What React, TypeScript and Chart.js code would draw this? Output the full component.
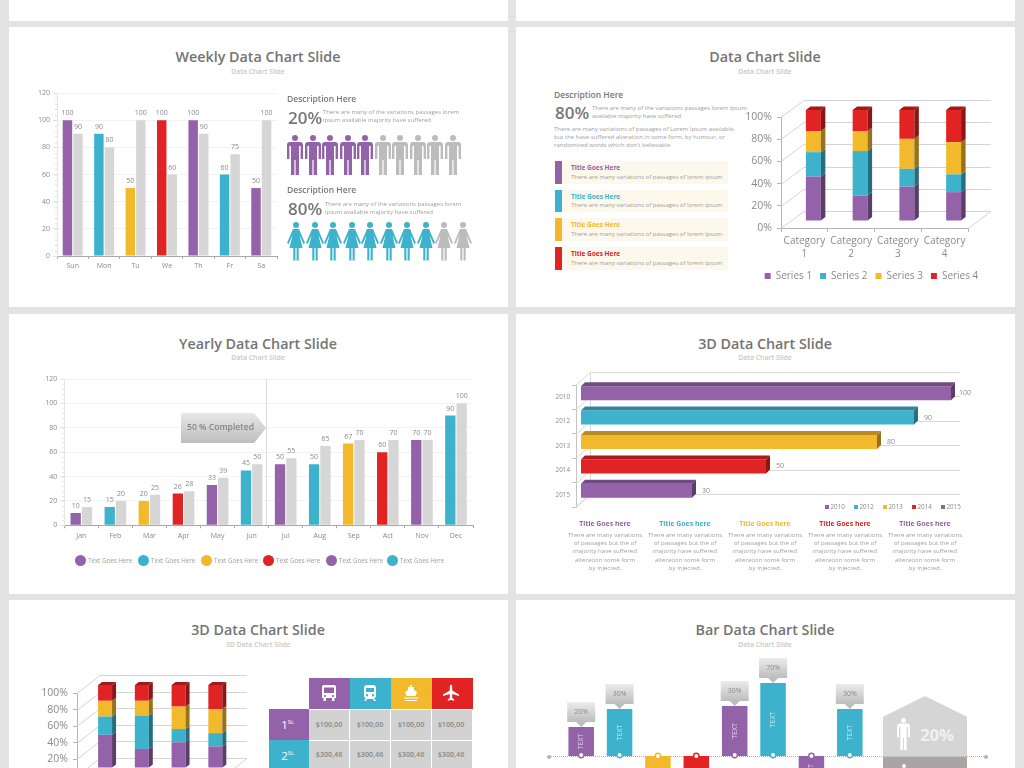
import React, { useEffect, useRef } from "react";
import { Chart, registerables } from "chart.js";

Chart.register(...registerables);
Chart.defaults.font.family = "'Open Sans', sans-serif";

const PURPLE = "#9462a8";
const BLUE = "#3cb2cd";
const YELLOW = "#f2b92c";
const RED = "#e12323";
const GREY = "#d6d6d6";
const TXT = "#8a8a8a";
const BODY = "#a0a0a0";

const weekDays = ["Sun", "Mon", "Tu", "We", "Th", "Fr", "Sa"];
const weekColored = [100, 90, 50, 100, 100, 60, 50];
const weekGrey = [90, 80, 100, 60, 90, 75, 100];
const weekColors = [PURPLE, BLUE, YELLOW, RED, PURPLE, BLUE, PURPLE];

const months = ["Jan", "Feb", "Mar", "Apr", "May", "Jun", "Jul", "Aug", "Sep", "Act", "Nov", "Dec"];
const yearColored = [10, 15, 20, 26, 33, 45, 50, 50, 67, 60, 70, 90];
const yearGrey = [15, 20, 25, 28, 39, 50, 55, 65, 70, 70, 70, 100];
const yearColors = [PURPLE, BLUE, YELLOW, RED, PURPLE, BLUE, PURPLE, BLUE, YELLOW, RED, PURPLE, BLUE];

const stackCats = [["Category", "1"], ["Category", "2"], ["Category", "3"], ["Category", "4"]];
const series1 = [40, 23, 31, 26];
const series2 = [22, 40, 16, 16];
const series3 = [19, 18, 27, 29];
const series4 = [19, 19, 26, 29];
const seriesNames = ["Series 1", "Series 2", "Series 3", "Series 4"];
const seriesColors = [PURPLE, BLUE, YELLOW, RED];

const hYears = ["2010", "2012", "2013", "2014", "2015"];
const hValues = [100, 90, 80, 50, 30];
const hColors = [PURPLE, BLUE, YELLOW, RED, PURPLE];

const tagBars = [29, 47, -45, -45, 50, 73, -32, 47];
const tagLabels = ["20%", "30%", "", "", "30%", "70%", "", "30%"];
const tagColors = [PURPLE, BLUE, YELLOW, RED, PURPLE, BLUE, PURPLE, BLUE];
const tagCats = ["A", "B", "C", "D", "E", "F", "G", "H"];

const fullTitles = [
  ["Title Goes Here", PURPLE],
  ["Title Goes Here", BLUE],
  ["Title Goes Here", YELLOW],
  ["Title Goes Here", RED],
] as const;
const colTitles = [
  ["Title Goes here", PURPLE],
  ["Title Goes here", BLUE],
  ["Title Goes here", YELLOW],
  ["Title Goes here", RED],
  ["Title Goes here", PURPLE],
] as const;
const colLines = [
  "There are many variations",
  "of passages but the of",
  "majority have suffered",
  "alteration some form",
  "by injected.",
];
const yearLegend = [PURPLE, BLUE, YELLOW, RED, PURPLE, BLUE];

function shade(hex: string, k: number) {
  const n = parseInt(hex.slice(1), 16);
  const f = (v: number) => Math.round(v * k);
  return `rgb(${f((n >> 16) & 255)},${f((n >> 8) & 255)},${f(n & 255)})`;
}

function poly(ctx: any, pts: number[][], fill: string) {
  ctx.beginPath();
  pts.forEach((p, i) => (i ? ctx.lineTo(p[0], p[1]) : ctx.moveTo(p[0], p[1])));
  ctx.closePath();
  ctx.fillStyle = fill;
  ctx.fill();
}

const valueLabels = {
  id: "valueLabels",
  afterDatasetsDraw(chart: any) {
    const { ctx } = chart;
    ctx.save();
    ctx.font = "7px 'Open Sans'";
    ctx.fillStyle = TXT;
    ctx.textAlign = "center";
    ctx.textBaseline = "middle";
    chart.data.datasets.forEach((ds: any, i: number) => {
      chart.getDatasetMeta(i).data.forEach((el: any, j: number) => {
        ctx.fillText(String(ds.data[j]), el.x, el.y - 7);
      });
    });
    ctx.restore();
  },
};

const minorTicks = {
  id: "minorTicks",
  afterDraw(chart: any) {
    const { ctx, scales } = chart;
    const y = scales.y;
    ctx.save();
    ctx.strokeStyle = "#e2e2e2";
    ctx.lineWidth = 1;
    for (let v = 0; v <= 120; v += 4) {
      const p = Math.round(y.getPixelForValue(v)) + 0.5;
      ctx.beginPath();
      ctx.moveTo(y.right - 2, p);
      ctx.lineTo(y.right, p);
      ctx.stroke();
    }
    ctx.restore();
  },
};

function stack3d(dx: number, dy: number, dep: number[], wall: number[], legendShift = 0, legendTop = 0) {
  return {
    id: "stack3d",
    afterLayout(chart: any) {
      if (chart.legend && legendShift) {
        chart.legend.left += legendShift;
        chart.legend.right += legendShift;
        chart.legend.top = legendTop;
      }
    },
    beforeDatasetsDraw(chart: any) {
      const { ctx, chartArea: a, scales } = chart;
      ctx.save();
      ctx.strokeStyle = "#d4d4d4";
      ctx.lineWidth = 1;
      scales.y.ticks.forEach((t: any) => {
        const p = Math.round(scales.y.getPixelForValue(t.value)) + 0.5;
        ctx.beginPath();
        ctx.moveTo(a.left, p);
        ctx.lineTo(a.left + wall[0], p - wall[1]);
        ctx.lineTo(a.right + wall[0], p - wall[1]);
        if (t.value === 0) {
          ctx.lineTo(a.right, p);
        }
        ctx.stroke();
      });
      ctx.restore();
      ctx.save();
      ctx.translate(dx, dy);
    },
    afterDatasetsDraw(chart: any) {
      const { ctx } = chart;
      const n = chart.data.datasets.length;
      chart.data.datasets.forEach((ds: any, i: number) => {
        chart.getDatasetMeta(i).data.forEach((el: any) => {
          const r = el.x + el.width / 2;
          const l = el.x - el.width / 2;
          poly(ctx, [[r, el.y], [r + dep[0], el.y - dep[1]], [r + dep[0], el.base - dep[1]], [r, el.base]], shade(ds.backgroundColor, 0.62));
          if (i === n - 1) {
            poly(ctx, [[l, el.y], [l + dep[0], el.y - dep[1]], [r + dep[0], el.y - dep[1]], [r, el.y]], shade(ds.backgroundColor, 0.72));
          }
        });
      });
      ctx.restore();
    },
  };
}

const hBar3d = {
  id: "hBar3d",
  beforeDatasetsDraw(chart: any) {
    const { ctx, chartArea: a, scales } = chart;
    ctx.save();
    ctx.strokeStyle = "#d8d8d8";
    ctx.lineWidth = 1;
    const wx = 14;
    const wy = 13;
    const backL = a.left + wx + 0.5;
    const backR = a.right + 14;
    ctx.beginPath();
    ctx.moveTo(a.left, a.top);
    ctx.lineTo(backL, a.top - wy + 0.5);
    ctx.lineTo(backR, a.top - wy + 0.5);
    ctx.moveTo(backL, a.top - wy);
    ctx.lineTo(backL, a.bottom - wy);
    ctx.lineTo(a.left, a.bottom);
    ctx.stroke();
    for (let i = 0; i < hYears.length; i++) {
      const b = Math.round(scales.y.getPixelForValue(i) + 12.2 - wy) + 0.5;
      ctx.beginPath();
      ctx.moveTo(backL, b);
      ctx.lineTo(backR, b);
      ctx.stroke();
      ctx.beginPath();
      ctx.moveTo(a.left, b + wy);
      ctx.lineTo(backL, b);
      ctx.stroke();
    }
    ctx.restore();
    ctx.save();
    ctx.translate(5, -4);
  },
  afterDatasetsDraw(chart: any) {
    const { ctx } = chart;
    const ds = chart.data.datasets[0];
    const d = 4;
    chart.getDatasetMeta(0).data.forEach((el: any, i: number) => {
      const t = el.y - el.height / 2;
      const b = el.y + el.height / 2;
      const c = ds.backgroundColor[i];
      poly(ctx, [[el.base, t], [el.base + d, t - d], [el.x + d, t - d], [el.x, t]], shade(c, 0.76));
      poly(ctx, [[el.x, t], [el.x + d, t - d], [el.x + d, b - d], [el.x, b]], shade(c, 0.62));
      ctx.font = "7px 'Open Sans'";
      ctx.fillStyle = TXT;
      ctx.textAlign = "center";
      ctx.textBaseline = "middle";
      ctx.fillText(String(ds.data[i]), el.x + 14, el.y);
    });
    ctx.restore();
  },
};

const tagBarsPlugin = {
  id: "tagBars",
  afterDatasetsDraw(chart: any) {
    const { ctx } = chart;
    chart.getDatasetMeta(0).data.forEach((el: any, i: number) => {
      const up = tagBars[i] > 0;
      ctx.save();
      ctx.translate(el.x, (el.y + el.base) / 2);
      ctx.rotate(-Math.PI / 2);
      ctx.font = "7px 'Open Sans'";
      ctx.fillStyle = "rgba(255,255,255,0.72)";
      ctx.textAlign = "center";
      ctx.textBaseline = "middle";
      ctx.fillText("TEXT", 0, 0);
      ctx.restore();

      ctx.beginPath();
      ctx.arc(el.x, el.base - (up ? 1 : 0), 2.7, 0, Math.PI * 2);
      ctx.fillStyle = "#fff";
      ctx.fill();
      ctx.lineWidth = 1.4;
      ctx.strokeStyle = tagColors[i];
      ctx.stroke();

      if (up) {
        const tip = el.y;
        const bot = tip - 5;
        const top = bot - 20;
        const w = 14;
        const g = ctx.createLinearGradient(0, top, 0, bot);
        g.addColorStop(0, "#ececec");
        g.addColorStop(1, "#bdbdbd");
        ctx.beginPath();
        ctx.moveTo(el.x - w, top);
        ctx.lineTo(el.x + w, top);
        ctx.lineTo(el.x + w, bot);
        ctx.lineTo(el.x + 5, bot);
        ctx.lineTo(el.x, tip);
        ctx.lineTo(el.x - 5, bot);
        ctx.lineTo(el.x - w, bot);
        ctx.closePath();
        ctx.fillStyle = g;
        ctx.fill();
        ctx.font = "7px 'Open Sans'";
        ctx.fillStyle = TXT;
        ctx.textAlign = "center";
        ctx.textBaseline = "middle";
        ctx.fillText(tagLabels[i], el.x, top + 9.5);
      }
    });
  },
};

function fixedAxis(size: number, vertical: boolean) {
  return (s: any) => {
    if (vertical) s.width = size;
    else s.height = size;
  };
}

function pairBars(labels: string[], colored: number[], grey: number[], colors: string[], yW: number, xH: number, padding: any, catPct: number, barPct: number) {
  return {
    type: "bar",
    data: {
      labels,
      datasets: [
        { data: colored, backgroundColor: colors, categoryPercentage: catPct, barPercentage: barPct },
        { data: grey, backgroundColor: GREY, categoryPercentage: catPct, barPercentage: barPct },
      ],
    },
    options: {
      animation: false,
      responsive: false,
      layout: { padding },
      plugins: { legend: { display: false }, tooltip: { enabled: false } },
      scales: {
        x: {
          afterFit: fixedAxis(xH, false),
          grid: { drawOnChartArea: false, color: "#a8a8a8", tickLength: 3 },
          border: { color: "#a8a8a8" },
          ticks: { color: TXT, font: { size: 7 }, padding: 3, maxRotation: 0, autoSkip: false },
        },
        y: {
          min: 0,
          max: 120,
          afterFit: fixedAxis(yW, true),
          grid: { color: "#f3f3f3", tickColor: "#e2e2e2", tickLength: 4 },
          border: { color: "#e4e4e4" },
          ticks: { color: TXT, font: { size: 7 }, stepSize: 20, padding: 3 },
        },
      },
    },
    plugins: [valueLabels, minorTicks],
  };
}

function stackChart(opts: { legend: boolean; yW: number; xH: number; padding: any; plugin: any; barPct: number; showX: boolean }) {
  const dataRows = [series1, series2, series3, series4];
  return {
    type: "bar",
    data: {
      labels: stackCats,
      datasets: dataRows.map((d, i) => ({
        label: seriesNames[i],
        data: d,
        backgroundColor: seriesColors[i],
        clip: false,
        categoryPercentage: 1,
        barPercentage: opts.barPct,
      })),
    },
    options: {
      animation: false,
      responsive: false,
      layout: { padding: opts.padding },
      plugins: {
        tooltip: { enabled: false },
        legend: {
          display: opts.legend,
          position: "bottom",
          labels: { boxWidth: 6, boxHeight: 6, color: TXT, font: { size: 10 }, padding: 8 },
        },
      },
      scales: {
        x: {
          stacked: true,
          display: opts.showX,
          afterFit: fixedAxis(opts.xH, false),
          grid: { drawOnChartArea: false, color: "#b4b4b4", tickLength: 4 },
          border: { color: "#b4b4b4" },
          ticks: { color: TXT, font: { size: 10, lineHeight: 1.3 }, padding: 3, maxRotation: 0, autoSkip: false },
        },
        y: {
          stacked: true,
          min: 0,
          max: 100,
          afterFit: fixedAxis(opts.yW, true),
          grid: { drawOnChartArea: false, color: "#b4b4b4", tickLength: 4 },
          border: { color: "#b4b4b4" },
          ticks: { color: TXT, font: { size: 10.5 }, stepSize: 20, padding: 5, callback: (v: any) => `${v}%` },
        },
      },
    },
    plugins: [opts.plugin],
  };
}

const hBarConfig = () => ({
  type: "bar",
  data: {
    labels: hYears,
    datasets: [{ data: hValues, backgroundColor: hColors, clip: false, categoryPercentage: 1, barPercentage: 0.575 }],
  },
  options: {
    indexAxis: "y",
    animation: false,
    responsive: false,
    layout: { padding: { top: 25, bottom: 8, right: 44 } },
    plugins: { legend: { display: false }, tooltip: { enabled: false } },
    scales: {
      x: { display: false, min: 0, max: 100 },
      y: {
        afterFit: fixedAxis(36, true),
        grid: { drawOnChartArea: false, color: "#c4c4c4", tickLength: 4 },
        border: { color: "#c4c4c4" },
        ticks: { color: TXT, font: { size: 6.3 }, padding: 2 },
      },
    },
  },
  plugins: [hBar3d],
});

const tagConfig = () => ({
  type: "bar",
  data: {
    labels: tagCats,
    datasets: [{ data: tagBars, backgroundColor: tagColors, categoryPercentage: 1, barPercentage: 0.665 }],
  },
  options: {
    animation: false,
    responsive: false,
    plugins: { legend: { display: false }, tooltip: { enabled: false } },
    scales: {
      x: { display: false },
      y: { display: false, min: -50, max: 111 },
    },
  },
  plugins: [tagBarsPlugin],
});

function ChartBox({ x, y, w, h, make }: { x: number; y: number; w: number; h: number; make: () => any }) {
  const ref = useRef<HTMLCanvasElement>(null);
  useEffect(() => {
    const c = new Chart(ref.current as any, make());
    return () => c.destroy();
  }, []);
  return <canvas ref={ref} width={w} height={h} style={{ position: "absolute", left: x, top: y, width: w, height: h, display: "block" }} />;
}

function T({ x, y, size, color = BODY, weight = 400, center = false, spacing, children }: any) {
  return (
    <div
      style={{
        position: "absolute",
        left: x,
        top: y,
        fontSize: size,
        color,
        fontWeight: weight,
        whiteSpace: "nowrap",
        letterSpacing: spacing,
        lineHeight: 1,
        transform: center ? "translate(-50%,-50%)" : "translateY(-50%)",
      }}
    >
      {children}
    </div>
  );
}

function Box({ x, y, w, h, bg, style }: any) {
  return <div style={{ position: "absolute", left: x, top: y, width: w, height: h, background: bg, ...style }} />;
}

function Heading({ cx, y, title, sub }: any) {
  return (
    <>
      <T x={cx} y={y} size={14.3} color="#747474" weight={600} center>{title}</T>
      <T x={cx} y={y + 14.7} size={6.9} color="#c8c8c8" weight={600} center>{sub}</T>
    </>
  );
}

function Man({ x, y, color }: any) {
  return (
    <svg style={{ position: "absolute", left: x, top: y }} width={16} height={40} viewBox="0 0 16 40">
      <circle cx={8} cy={3} r={3} fill={color} />
      <path fill={color} d="M3 7 H13 Q16 7 16 10 V24 H13.6 V11 H12 V40 H8.6 V25 H7.4 V40 H4 V11 H2.4 V24 H0 V10 Q0 7 3 7Z" />
    </svg>
  );
}

function Woman({ x, y, color }: any) {
  return (
    <svg style={{ position: "absolute", left: x, top: y }} width={18} height={38.5} viewBox="0 0 18 38.5">
      <circle cx={9} cy={3} r={3} fill={color} />
      <path fill={color} d="M6 7 H12 L18 21 L16.4 22 L12.5 13 L15.5 26 H11.7 V38.5 H9.6 V26 H8.4 V38.5 H6.3 V26 H2.5 L5.5 13 L1.6 22 L0 21 Z" />
    </svg>
  );
}

function Icon({ cx, kind }: any) {
  const common = { position: "absolute", left: cx - 9, top: 684 } as any;
  return (
    <svg style={common} width={18} height={18} viewBox="0 0 18 18" fill="#fff">
      {kind === "bus" && <path fillRule="evenodd" d="M4 1 H14 Q16 1 16 3 V14 H14.5 V17 H12 V14 H6 V17 H3.5 V14 H2 V3 Q2 1 4 1Z M4 3.5 V9 H14 V3.5Z M5 11 a1 1 0 1 0 .01 0Z M13 11 a1 1 0 1 0 .01 0Z" />}
      {kind === "train" && <path fillRule="evenodd" d="M6 1 H12 Q15 1 15 4 V12 Q15 14 13 14 L15 17 H13 L12 15 H6 L5 17 H3 L5 14 Q3 14 3 12 V4 Q3 1 6 1Z M5 4 V8 H13 V4Z M6 10 a1.2 1.2 0 1 0 .01 0Z M12 10 a1.2 1.2 0 1 0 .01 0Z" />}
      {kind === "ship" && <path d="M8 1 H10 V3 H12 V6 L15 8 L13.5 12 H4.5 L3 8 L6 6 V3 H8Z M2 13.5 H16 V14.5 H2Z M3 16 H15 V17 H3Z" />}
      {kind === "plane" && <path d="M9 0.5 Q10.2 0.5 10.2 3 V6.5 L17 10.5 V12 L10.2 10 V14 L12.2 15.5 V16.8 L9 16 L5.8 16.8 V15.5 L7.8 14 V10 L1 12 V10.5 L7.8 6.5 V3 Q7.8 0.5 9 0.5Z" />}
    </svg>
  );
}

const rowYs = [161, 189.6, 218, 247];
const colCenters = [605, 685, 765, 845, 925];
const tableHeadX = [310, 351, 392, 432.5];
const iconKinds = ["bus", "train", "ship", "plane"];

export default function App() {
  useEffect(() => {
    document.body.style.margin = "0";
  }, []);
  return (
    <div style={{ position: "fixed", left: 0, top: 0, width: 1024, height: 768, overflow: "hidden", background: "#e3e3e3", fontFamily: "'Open Sans', sans-serif", filter: "blur(0.35px)" }}>
      <Box x={9} y={0} w={499} h={21} bg="#fff" />
      <Box x={516} y={0} w={499} h={21} bg="#fff" />
      <Box x={9} y={27} w={499} h={280} bg="#fff" />
      <Box x={516} y={27} w={499} h={280} bg="#fff" />
      <Box x={9} y={314} w={499} h={280} bg="#fff" />
      <Box x={516} y={314} w={499} h={280} bg="#fff" />
      <Box x={9} y={600} w={499} h={168} bg="#fff" />
      <Box x={516} y={600} w={499} h={168} bg="#fff" />

      {/* Card 1 */}
      <Heading cx={258} y={57} title="Weekly Data Chart Slide" sub="Data Chart Slide" />
      <ChartBox x={20} y={85} w={270} h={190} make={() => pairBars(weekDays, weekColored, weekGrey, weekColors, 37, 19, { top: 8, right: 13 }, 0.67, 0.9)} />
      <T x={287} y={99} size={8.5} color="#777" weight={600}>Description Here</T>
      <T x={288} y={117} size={17} color="#777" weight={600}>20%</T>
      <T x={323} y={112} size={6}>There are many of the variations passages lorem</T>
      <T x={323} y={120} size={6}>ipsum available majority have suffered</T>
      {Array.from({ length: 10 }).map((_, i) => (
        <Man key={i} x={287 + i * 17.5} y={135} color={i < 5 ? PURPLE : "#bcbcbc"} />
      ))}
      <T x={287} y={190} size={8.5} color="#777" weight={600}>Description Here</T>
      <T x={288} y={208} size={17} color="#777" weight={600}>80%</T>
      <T x={325} y={204} size={6}>There are many of the variations passages lorem</T>
      <T x={325} y={212} size={6}>ipsum available majority have suffered</T>
      {Array.from({ length: 10 }).map((_, i) => (
        <Woman key={i} x={287 + i * 18.5} y={222} color={i < 8 ? BLUE : "#bcbcbc"} />
      ))}

      {/* Card 2 */}
      <Heading cx={765} y={57} title="Data Chart Slide" sub="Data Chart Slide" />
      <T x={554} y={95} size={8.5} color="#777" weight={600}>Description Here</T>
      <T x={555} y={112} size={17} color="#777" weight={600}>80%</T>
      <T x={592} y={108} size={6}>There are many of the variations passages lorem ipsum</T>
      <T x={592} y={116} size={6}>available majority have suffered</T>
      <T x={554} y={129} size={6}>There are many variations of passages of Lorem Ipsum available,</T>
      <T x={554} y={137} size={6}>but the have suffered alteration in some form, by humour, or</T>
      <T x={554} y={145} size={6}>randomized words which don't believable</T>
      {fullTitles.map(([t, c], i) => (
        <React.Fragment key={i}>
          <Box x={562} y={rowYs[i]} w={166} h={22.5} bg="#fdf8ec" />
          <Box x={554.7} y={rowYs[i]} w={7.3} h={22.5} bg={c} />
          <T x={571} y={rowYs[i] + 7.2} size={6.5} color={c} weight={700}>{t}</T>
          <T x={571} y={rowYs[i] + 15.7} size={6}>There are many variations of passages of lorem ipsum</T>
        </React.Fragment>
      ))}
      <ChartBox x={715} y={95} w={300} h={200} make={() => stackChart({ legend: true, yW: 66, xH: 39, padding: { top: 22, right: 47 }, plugin: stack3d(9, -7, [4.5, 3.5], [23, 17], 30, 168), barPct: 0.32, showX: true })} />

      {/* Card 3 */}
      <Heading cx={258} y={343.5} title="Yearly Data Chart Slide" sub="Data Chart Slide" />
      <ChartBox x={30} y={370} w={470} h={175} make={() => pairBars(months, yearColored, yearGrey, yearColors, 34.3, 19.7, { top: 9, right: 27 }, 0.665, 0.91)} />
      <Box x={266} y={379} w={1} h={146} bg="#dcdcdc" />
      <Box x={181} y={413} w={85} h={30} bg="linear-gradient(#e8e8e8,#bdbdbd)" style={{ clipPath: "polygon(0 0, 86% 0, 100% 50%, 86% 100%, 0 100%)" }} />
      <T x={187} y={427} size={8.6} color="#858585" weight={600}>50 % Completed</T>
      {yearLegend.map((c, i) => {
        const cx = [80, 143, 206, 268, 331, 392][i];
        return (
          <React.Fragment key={i}>
            <Box x={cx - 5.5} y={555.2} w={11} h={11} bg={c} style={{ borderRadius: "50%" }} />
            <T x={cx + 8} y={560.7} size={6.2}>Text Goes Here</T>
          </React.Fragment>
        );
      })}

      {/* Card 4 */}
      <Heading cx={765} y={343.5} title="3D Data Chart Slide" sub="Data Chart Slide" />
      <ChartBox x={540} y={360} w={450} h={155} make={hBarConfig} />
      {hYears.map((yr, i) => {
        const sx = [825, 854, 883, 912, 941][i];
        return (
          <React.Fragment key={yr}>
            <Box x={sx} y={505} w={4} h={4} bg={hColors[i]} />
            <T x={sx + 5.5} y={507.3} size={6.3} color={TXT}>{yr}</T>
          </React.Fragment>
        );
      })}
      {colTitles.map(([t, c], i) => (
        <React.Fragment key={i}>
          <T x={colCenters[i]} y={524} size={6.9} color={c} weight={700} center>{t}</T>
          {colLines.map((l, j) => (
            <T key={j} x={colCenters[i]} y={534.7 + j * 8.3} size={6.1} center>{l}</T>
          ))}
        </React.Fragment>
      ))}

      {/* Card 5 */}
      <Heading cx={258} y={630} title="3D Data Chart Slide" sub="3D Data Chart Slide" />
      <ChartBox x={40} y={671} w={220} h={130} make={() => stackChart({ legend: false, yW: 37, xH: 0, padding: { top: 22, right: 36, bottom: 25 }, plugin: stack3d(9.7, -8, [4, 3], [23, 18]), barPct: 0.38, showX: false })} />
      {tableHeadX.map((x, i) => (
        <React.Fragment key={i}>
          <Box x={x - 1} y={678} w={41} h={31} bg={seriesColors[i]} />
          <Icon cx={[329, 370, 411, 451][i]} kind={iconKinds[i]} />
          <Box x={x - 1} y={709.5} w={40.2} h={30} bg="#d2d2d2" />
          <T x={[329, 370, 411, 451][i]} y={724.5} size={7.2} color="#888" weight={600} center>$100,00</T>
          <Box x={x - 1} y={740.5} w={40.2} h={30} bg="#d2d2d2" />
          <T x={[329, 370, 411, 451][i]} y={755} size={7.2} color="#888" weight={600} center>$300,46</T>
        </React.Fragment>
      ))}
      <Box x={269} y={709} w={40} h={31} bg={PURPLE} />
      <T x={288} y={725} size={11.5} color="#fff" center>1<sup style={{ fontSize: 6 }}>St.</sup></T>
      <Box x={269} y={740} w={40} h={31} bg={BLUE} />
      <T x={288} y={756} size={11.5} color="#fff" center>2<sup style={{ fontSize: 6 }}>St.</sup></T>

      {/* Card 6 */}
      <Heading cx={765} y={630} title="Bar Data Chart Slide" sub="Data Chart Slide" />
      <Box x={883} y={696} w={84} h={61} bg="#d5d5d5" style={{ clipPath: "polygon(50% 0, 100% 34%, 100% 100%, 0 100%, 0 34%)" }} />
      <Box x={883} y={757} w={84} h={11} bg="#aaa4a4" />
      <Box x={901.5} y={764} w={4} h={4} bg="#fff" style={{ borderRadius: "50%" }} />
      <T x={937} y={735} size={16.5} color="#f0f0f0" weight={700} center>20%</T>
      <svg style={{ position: "absolute", left: 897, top: 717.5 }} width={13} height={32} viewBox="0 0 16 40">
        <circle cx={8} cy={3} r={3} fill="#fff" />
        <path fill="#fff" d="M3 7 H13 Q16 7 16 10 V24 H13.6 V11 H12 V40 H8.6 V25 H7.4 V40 H4 V11 H2.4 V24 H0 V10 Q0 7 3 7Z" />
      </svg>
      <Box x={549} y={756} w={437} h={0} style={{ borderTop: "1px dotted #b0b0b0" }} />
      <Box x={547} y={754.5} w={4} h={4} bg="#b4b4b4" style={{ borderRadius: "50%" }} />
      <Box x={984} y={754.5} w={4} h={4} bg="#b4b4b4" style={{ borderRadius: "50%" }} />
      <ChartBox x={562} y={645} w={307} h={161} make={tagConfig} />
    </div>
  );
}
